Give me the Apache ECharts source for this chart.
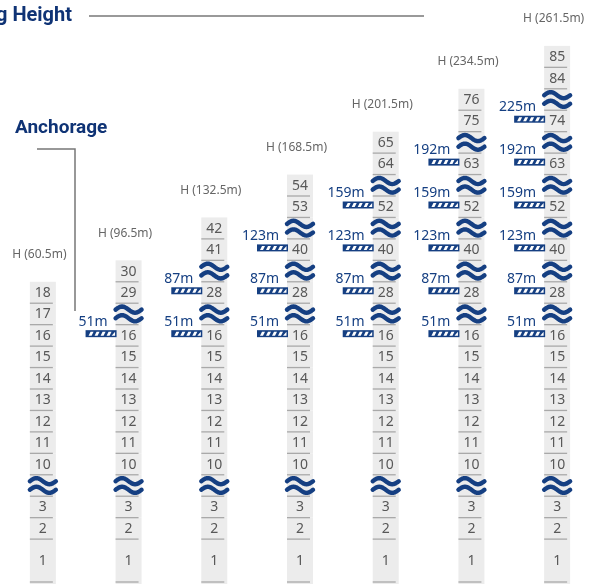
<!DOCTYPE html>
<html><head><meta charset="utf-8">
<script src="https://cdn.jsdelivr.net/npm/echarts@6/dist/echarts.min.js"></script>
<style>html,body{margin:0;padding:0;background:#fff}#c{width:600px;height:584px}</style>
</head><body><div id="c"></div>
<script>
// ---- data ----
const buildings = ['B1', 'B2', 'B3', 'B4', 'B5', 'B6', 'B7'];
const buildingHeights = [60.5, 96.5, 132.5, 168.5, 201.5, 234.5, 261.5];
const topFloors = [18, 30, 42, 54, 65, 76, 85];
const baseFloors = [1, 2, 3, '~', 10, 11, 12, 13, 14, 15, 16];
const anchorFloors = [[], [16], [16, 28], [16, 28, 40], [16, 28, 40, 52], [16, 28, 40, 52, 63], [16, 28, 40, 52, 63, 74]];
const anchorHeights = [[], [51], [51, 87], [51, 87, 123], [51, 87, 123, 159], [51, 87, 123, 159, 192], [51, 87, 123, 159, 192, 225]];
const titleMain = 'Building Height';
const titleSub = 'Anchorage';

// ---- build cells ----
const cells = [];      // [col, y0, y1, label]
const anchors = [];    // [col, yTop, height]
const hLabels = [];    // [col, yTop, text]
buildings.forEach((b, i) => {
  const seq = baseFloors.slice();
  let last = 16;
  anchorFloors[i].forEach(f => { if (f > last) { seq.push('~', f); last = f; } });
  if (topFloors[i] - 1 > last + 1) seq.push('~');
  seq.push(topFloors[i] - 1, topFloors[i]);
  let y = 0;
  const floorTop = {};
  seq.forEach((lab, k) => {
    const h = k === 0 ? 2 : 1;
    cells.push([i, y, y + h, lab]);
    if (lab !== '~') floorTop[lab] = y + h;
    y += h;
  });
  anchorFloors[i].forEach((f, j) => anchors.push([i, floorTop[f], anchorHeights[i][j]]));
  hLabels.push([i, y, 'H (' + buildingHeights[i].toFixed(1) + 'm)']);
});

const NAVY = '#153f82';
const COLW = 26;

function wavePts(cx, cy, w, a) {
  const pts = [];
  for (let s = 0; s <= 20; s++) {
    const t = s / 20;
    pts.push([cx - w / 2 + t * w, cy - a * Math.sin(2 * Math.PI * t)]);
  }
  return pts;
}

function renderCell(params, api) {
  const c = cells[params.dataIndex];
  const pb = api.coord([api.value(0), api.value(1)]);
  const pt = api.coord([api.value(0), api.value(2)]);
  const cx = pb[0];
  const ch = [
    { type: 'rect', shape: { x: cx - COLW / 2, y: pt[1], width: COLW, height: pb[1] - pt[1] + (c[1] === 0 ? 2 : 0) }, style: { fill: '#ececec' } },
    { type: 'line', shape: { x1: cx - COLW / 2, y1: pb[1], x2: cx + COLW / 2 - 3, y2: pb[1] }, style: { stroke: '#a9a9a9', lineWidth: 1.3 } }
  ];
  const cy = (pb[1] + pt[1]) / 2;
  if (c[3] === '~') {
    ch.push({ type: 'polyline', shape: { points: wavePts(cx, cy - 4.3, 26, 3.1) }, style: { stroke: NAVY, fill: null, lineWidth: 4.4, lineCap: 'round', lineJoin: 'round' } });
    ch.push({ type: 'polyline', shape: { points: wavePts(cx, cy + 4.3, 26, 3.1) }, style: { stroke: NAVY, fill: null, lineWidth: 4.4, lineCap: 'round', lineJoin: 'round' } });
  } else {
    ch.push({ type: 'text', style: { text: String(c[3]), x: cx, y: cy + 0.5, align: 'center', verticalAlign: 'middle', textAlign: 'center', textVerticalAlign: 'middle', fill: '#585858', font: '14px "Noto Sans"' } });
  }
  return { type: 'group', children: ch };
}

function renderAnchor(params, api) {
  const a = anchors[params.dataIndex];
  const p = api.coord([api.value(0), api.value(1)]);
  const left = p[0] - COLW / 2;
  const bx = left - 30, by = p[1] + 5.5, bw = 31, bh = 7;
  const ch = [{ type: 'rect', shape: { x: bx, y: by, width: bw, height: bh }, style: { fill: NAVY } }];
  for (let k = 0; k < 4; k++) {
    const x0 = bx + 3 + k * 6;
    ch.push({ type: 'polygon', shape: { points: [[x0, by + 5.5], [x0 + 3, by + 5.5], [x0 + 5, by + 1.5], [x0 + 2, by + 1.5]] }, style: { fill: '#fff' } });
  }
  ch.push({ type: 'polygon', shape: { points: [[bx + 26, by + 5.5], [bx + 29.5, by + 5.5], [bx + 29.5, by + 1.5]] }, style: { fill: '#fff' } });
  ch.push({ type: 'text', style: { text: a[2] + 'm', x: left - 8, y: p[1] - 3, align: 'right', verticalAlign: 'middle', textAlign: 'right', textVerticalAlign: 'middle', fill: NAVY, font: '14px "Noto Sans"' } });
  return { type: 'group', children: ch };
}

function renderH(params, api) {
  const h = hLabels[params.dataIndex];
  const p = api.coord([api.value(0), api.value(1) + 1.26]);
  return { type: 'text', style: { text: h[2], x: p[0] - 3.5, y: p[1], align: 'center', verticalAlign: 'middle', textAlign: 'center', textVerticalAlign: 'middle', fill: '#666', font: '12px "Noto Sans"' } };
}

const chart = echarts.init(document.getElementById('c'), null, { renderer: 'canvas' });
chart.setOption({
  animation: false,
  backgroundColor: '#fff',
  grid: { left: -4, right: 0, top: 3, bottom: 2 },
  xAxis: { type: 'category', data: buildings, show: false, boundaryGap: true },
  yAxis: { type: 'value', min: 0, max: 27, show: false },
  graphic: [
    { type: 'text', x: 72, y: 16, style: { text: titleMain, align: 'right', verticalAlign: 'middle', textAlign: 'right', textVerticalAlign: 'middle', fill: '#0f3375', font: 'bold 20px Roboto' } },
    { type: 'line', shape: { x1: 89, y1: 16, x2: 424, y2: 16 }, style: { stroke: '#777', lineWidth: 1.5 } },
    { type: 'text', x: 15, y: 128, style: { text: titleSub, align: 'left', verticalAlign: 'middle', textAlign: 'left', textVerticalAlign: 'middle', fill: '#0f3375', font: 'bold 19px Roboto' } },
    { type: 'polyline', shape: { points: [[37, 149], [75, 149], [75, 311]] }, style: { stroke: '#777', lineWidth: 1.5, fill: null } }
  ],
  series: [
    { type: 'custom', renderItem: renderCell, data: cells.map(c => [c[0], c[1], c[2]]), encode: { x: 0, y: [1, 2] }, clip: false, silent: true },
    { type: 'custom', renderItem: renderAnchor, data: anchors.map(a => [a[0], a[1]]), encode: { x: 0, y: 1 }, clip: false, silent: true, z: 3 },
    { type: 'custom', renderItem: renderH, data: hLabels.map(h => [h[0], h[1]]), encode: { x: 0, y: 1 }, clip: false, silent: true }
  ]
});
</script></body></html>
